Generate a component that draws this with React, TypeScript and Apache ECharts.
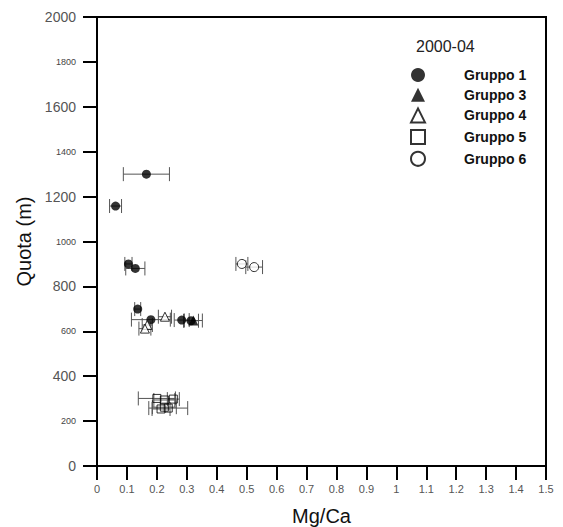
import React, { useEffect, useRef } from "react";
import * as echarts from "echarts";

// Gruppo 1 (filled circles)
const g1X = [0.165, 0.062, 0.105, 0.128, 0.136, 0.18, 0.283, 0.314];
const g1Y = [1300, 1158, 900, 880, 699, 652, 650, 647];
const g1Err = [0.077, 0.02, 0.012, 0.032, 0.01, 0.065, 0.025, 0.025];
// Gruppo 3 (filled triangles)
const g3X = [0.322];
const g3Y = [648];
const g3Err = [0.03];
// Gruppo 4 (open triangles)
const g4X = [0.227, 0.168, 0.16];
const g4Y = [665, 628, 612];
const g4Err = [0.022, 0.017, 0.02];
// Gruppo 5 (open squares)
const g5X = [0.2, 0.225, 0.255, 0.225, 0.238, 0.214];
const g5Y = [301, 294, 298, 262, 258, 254];
const g5Err = [0.062, 0.035, 0.02, 0.04, 0.065, 0.03];
// Gruppo 6 (open circles)
const g6X = [0.484, 0.525];
const g6Y = [900, 886];
const g6Err = [0.02, 0.028];

const groupNames = ["Gruppo 1", "Gruppo 3", "Gruppo 4", "Gruppo 5", "Gruppo 6"];
const titleText = "2000-04";
const xName = "Mg/Ca";
const yName = "Quota (m)";

const FONT = '"Liberation Sans", Arial, Helvetica, sans-serif';

function pts(xs: number[], ys: number[]) {
  return xs.map((x, i) => [x, ys[i]]);
}
function errs(xs: number[], ys: number[], es: number[]) {
  return xs.map((x, i) => [x, ys[i], es[i]]);
}

export default function App() {
  const ref = useRef<HTMLDivElement>(null);
  useEffect(() => {
    if (!ref.current) return;
    const chart = echarts.init(ref.current, null, { renderer: "svg" });
    const errData = [
      ...errs(g1X, g1Y, g1Err),
      ...errs(g3X, g3Y, g3Err),
      ...errs(g4X, g4Y, g4Err),
      ...errs(g5X, g5Y, g5Err),
      ...errs(g6X, g6Y, g6Err),
    ];
    const capH = 7;
    const errStyle = { stroke: "#555", lineWidth: 1 };
    chart.setOption({
      animation: false,
      backgroundColor: "#fff",
      textStyle: { fontFamily: FONT },
      title: {
        text: titleText,
        left: 411,
        top: 33,
        textStyle: { fontSize: 16, fontWeight: "normal", color: "#222", fontFamily: FONT },
      },
      legend: {
        data: groupNames,
        orient: "vertical",
        left: 405,
        top: 63,
        itemWidth: 14,
        itemHeight: 14,
        itemGap: 5.7,
        selectedMode: false,
        textStyle: {
          fontSize: 14,
          fontWeight: "bold",
          color: "#111",
          fontFamily: FONT,
          padding: [0, 0, 0, 34],
        },
      },
      grid: {
        left: 97,
        right: 17,
        top: 17,
        bottom: 61,
        outerBoundsMode: "none",
        containLabel: false,
        show: true,
        borderColor: "#000",
        borderWidth: 2,
        backgroundColor: "transparent",
      },
      xAxis: {
        type: "value",
        min: 0,
        max: 1.5,
        interval: 0.1,
        name: xName,
        nameLocation: "middle",
        nameGap: 40,
        nameTextStyle: { fontSize: 20, color: "#111", fontFamily: FONT },
        axisLine: { show: true, onZero: false, lineStyle: { color: "#000", width: 2 } },
        axisTick: { show: true, length: 14, lineStyle: { color: "#000", width: 2 } },
        axisLabel: { fontSize: 11, color: "#555", margin: 17, fontFamily: FONT },
        splitLine: { show: false },
      },
      yAxis: {
        type: "value",
        min: 0,
        max: 2000,
        interval: 200,
        name: yName,
        nameLocation: "middle",
        nameRotate: 90,
        nameGap: 60,
        nameTextStyle: { fontSize: 20, color: "#111", fontFamily: FONT },
        axisLine: { show: true, onZero: false, lineStyle: { color: "#000", width: 2 } },
        axisTick: { show: true, length: 14, lineStyle: { color: "#000", width: 2 } },
        axisLabel: {
          margin: 21,
          color: "#555",
          fontFamily: FONT,
          formatter: (v: number) => (v % 400 === 0 ? `{a|${v}}` : `{b|${v}}`),
          rich: {
            a: { fontSize: 14, color: "#555", fontFamily: FONT },
            b: { fontSize: 9, color: "#444", fontFamily: FONT },
          },
        },
        splitLine: { show: false },
      },
      series: [
        {
          type: "custom",
          name: "err",
          data: errData,
          encode: { x: 0, y: 1 },
          z: 1,
          renderItem: (params: any, api: any) => {
            const x = api.value(0);
            const y = api.value(1);
            const e = api.value(2);
            const l = api.coord([x - e, y]);
            const r = api.coord([x + e, y]);
            return {
              type: "group",
              children: [
                { type: "line", shape: { x1: l[0], y1: l[1], x2: r[0], y2: r[1] }, style: errStyle },
                { type: "line", shape: { x1: l[0], y1: l[1] - capH, x2: l[0], y2: l[1] + capH }, style: errStyle },
                { type: "line", shape: { x1: r[0], y1: r[1] - capH, x2: r[0], y2: r[1] + capH }, style: errStyle },
              ],
            };
          },
        },
        {
          type: "scatter",
          name: groupNames[0],
          data: pts(g1X, g1Y),
          symbol: "circle",
          symbolSize: 9,
          z: 3,
          itemStyle: { color: "#000" },
        },
        {
          type: "scatter",
          name: groupNames[1],
          data: pts(g3X, g3Y),
          symbol: "triangle",
          symbolSize: 10,
          z: 3,
          itemStyle: { color: "#000" },
        },
        {
          type: "scatter",
          name: groupNames[2],
          data: pts(g4X, g4Y),
          symbol: "triangle",
          symbolSize: 9,
          z: 3,
          itemStyle: { color: "#fff", borderColor: "#000", borderWidth: 1 },
        },
        {
          type: "scatter",
          name: groupNames[3],
          data: pts(g5X, g5Y),
          symbol: "rect",
          symbolSize: 8,
          z: 3,
          itemStyle: { color: "rgba(255,255,255,0)", borderColor: "#000", borderWidth: 1 },
        },
        {
          type: "scatter",
          name: groupNames[4],
          data: pts(g6X, g6Y),
          symbol: "circle",
          symbolSize: 9,
          z: 3,
          itemStyle: { color: "#fff", borderColor: "#000", borderWidth: 1 },
        },
      ],
    });
    return () => chart.dispose();
  }, []);
  return (
    <div
      ref={ref}
      style={{ position: "fixed", left: 0, top: 0, width: 563, height: 527, background: "#fff" }}
    />
  );
}
